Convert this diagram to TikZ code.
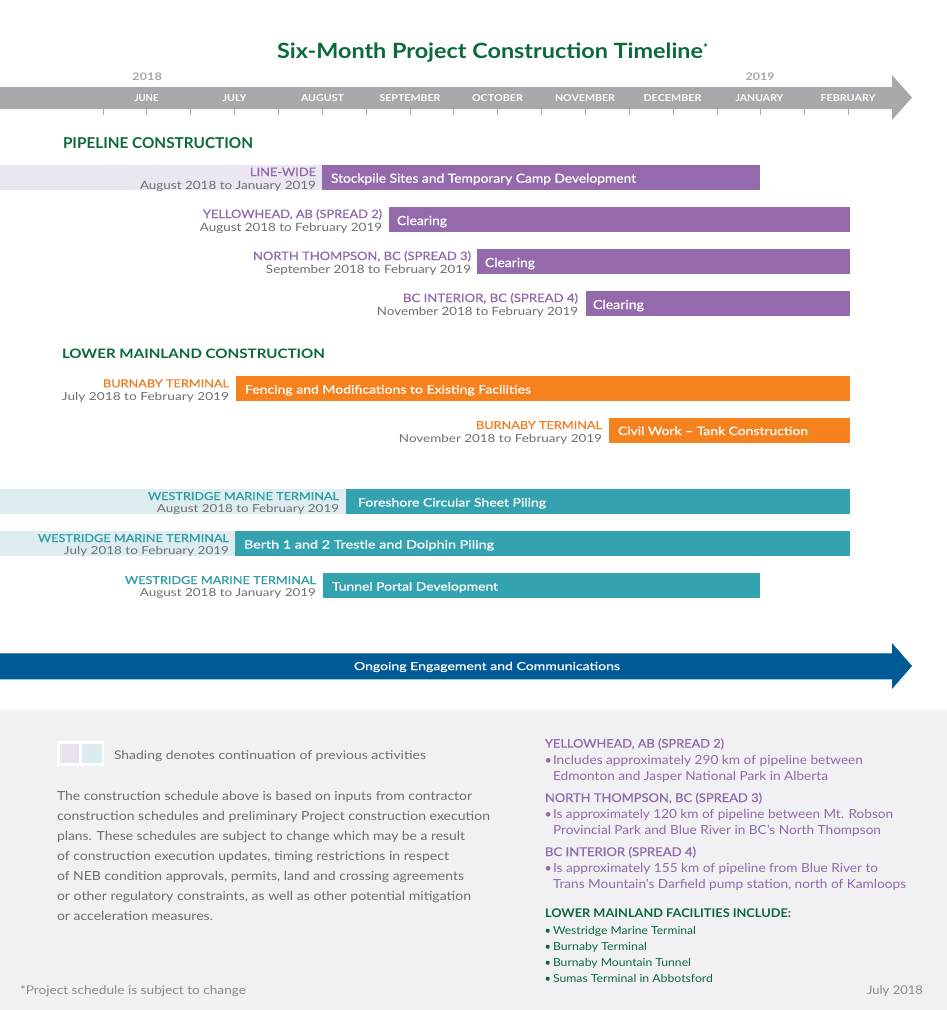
\documentclass[tikz,border=0pt]{standalone}
\usepackage{fontspec}
\usepackage{graphicx}
\setmainfont{Lato}
\newfontfamily\medfont{Lato}[FakeBold=0.5]
\newcommand\fw[2]{\resizebox{#1}{\height}{#2}}
\definecolor{greenT}{HTML}{0B6A3A}
\definecolor{purpleT}{HTML}{8E6AAA}
\definecolor{purpleB}{HTML}{946AAD}
\definecolor{lavS}{HTML}{ECE6F0}
\definecolor{orangeT}{HTML}{EF7F22}
\definecolor{orangeB}{HTML}{F5821F}
\definecolor{tealT}{HTML}{2F9CA8}
\definecolor{tealB}{HTML}{35A3AF}
\definecolor{tealS}{HTML}{DDEDF0}
\definecolor{grayT}{HTML}{6D6E71}
\definecolor{tlgray}{HTML}{A7A9AC}
\definecolor{blueA}{HTML}{005A96}
\definecolor{blueL}{HTML}{4E8DBE}
\definecolor{panel}{HTML}{F1F1F3}
\definecolor{legL}{HTML}{EBE2F0}
\definecolor{legT}{HTML}{DCEBED}
\tikzset{
  every node/.style={inner sep=0pt, outer sep=0pt},
  ttl/.style={anchor=base west, text=greenT, font=\bfseries\fontsize{21}{22}\selectfont},
  yearlbl/.style={anchor=base, text=tlgray, font=\bfseries\fontsize{10.5}{11}\selectfont},
  monthlbl/.style={anchor=base, text=white, font=\bfseries\fontsize{9.5}{10}\selectfont},
  tickmark/.style={draw=tlgray, line width=0.8pt},
  sechead/.style={anchor=base west, text=greenT, font=\bfseries\fontsize{15}{16}\selectfont},
  plbl/.style={anchor=base east, font=\medfont\fontsize{11.5}{12}\selectfont},
  pdate/.style={anchor=base east, text=grayT, font=\fontsize{11.5}{12}\selectfont},
  pbar/.style={anchor=base west, text=white, font=\medfont\fontsize{12.5}{13}\selectfont},
  llbl/.style={anchor=base east, font=\medfont\fontsize{11}{12}\selectfont},
  ldate/.style={anchor=base east, text=grayT, font=\fontsize{11}{12}\selectfont},
  lbar/.style={anchor=base west, text=white, font=\medfont\fontsize{11.5}{12}\selectfont},
  bodytxt/.style={anchor=base west, text=grayT, font=\fontsize{12.5}{13}\selectfont},
  rhead/.style={anchor=base west, text=purpleT, font=\medfont\fontsize{12}{13}\selectfont},
  rbody/.style={anchor=base west, text=purpleT, font=\fontsize{12.5}{13}\selectfont},
  ghead/.style={anchor=base west, text=greenT, font=\bfseries\fontsize{12}{13}\selectfont},
  gbody/.style={anchor=base west, text=greenT, font=\fontsize{11}{12}\selectfont},
}
\begin{document}
\begin{tikzpicture}[x=1pt, y=-1pt]
\useasboundingbox (0,0) rectangle (947,1010);
\fill[white] (0,0) rectangle (947,1010);
\fill[panel] (0,710) rectangle (947,1010);

% ---- title
\node[ttl] (title) at (277,58) {\fw{426pt}{Six-Month Project Construction Timeline}\raisebox{6pt}{\fontsize{12}{12}\selectfont *}};

% ---- timeline arrow
\fill[tlgray] (0,87) -- (892,87) -- (892,75) -- (912,97.5) -- (892,120) -- (892,109) -- (0,109) -- cycle;
\foreach \i in {0,...,17}{\draw[tickmark] ({103+43.85*\i},109) -- ({103+43.85*\i},115);}
\node[yearlbl] (y18) at (147,80.7) {\fw{30pt}{2018}};
\node[yearlbl] (y19) at (760,80.7) {\fw{29pt}{2019}};
\node[monthlbl] (m1) at (146.5,101) {\fw{24pt}{JUNE}};
\node[monthlbl] (m2) at (234.5,101) {\fw{24pt}{JULY}};
\node[monthlbl] (m3) at (322.5,101) {\fw{43pt}{AUGUST}};
\node[monthlbl] (m4) at (410,101) {\fw{61pt}{SEPTEMBER}};
\node[monthlbl] (m5) at (497.5,101) {\fw{51pt}{OCTOBER}};
\node[monthlbl] (m6) at (585,101) {\fw{60pt}{NOVEMBER}};
\node[monthlbl] (m7) at (672.5,101) {\fw{58pt}{DECEMBER}};
\node[monthlbl] (m8) at (759.5,101) {\fw{48pt}{JANUARY}};
\node[monthlbl] (m9) at (848,101) {\fw{55pt}{FEBRUARY}};

% ---- pipeline construction
\node[sechead] (h1) at (63,148.3) {\fw{190pt}{PIPELINE CONSTRUCTION}};

\fill[lavS] (0,165) rectangle (322,190);
\fill[purpleB] (322,165) rectangle (760,190);
\node[plbl, text=purpleT] (r1l) at (316,176) {\fw{66pt}{LINE-WIDE}};
\node[pdate] (r1d) at (316,189) {\fw{176pt}{August 2018 to January 2019}};
\node[pbar] (r1b) at (331,182.7) {\fw{305pt}{Stockpile Sites and Temporary Camp Development}};

\fill[purpleB] (389,207) rectangle (850,232);
\node[plbl, text=purpleT] (r2l) at (382,218) {\fw{179pt}{YELLOWHEAD, AB (SPREAD 2)}};
\node[pdate] (r2d) at (382,231.5) {\fw{182pt}{August 2018 to February 2019}};
\node[pbar] (r2b) at (397,225) {\fw{50pt}{Clearing}};

\fill[purpleB] (477,249) rectangle (850,274);
\node[plbl, text=purpleT] (r3l) at (471,260) {\fw{218pt}{NORTH THOMPSON, BC (SPREAD 3)}};
\node[pdate] (r3d) at (471,273.5) {\fw{205pt}{September 2018 to February 2019}};
\node[pbar] (r3b) at (485,267) {\fw{50pt}{Clearing}};

\fill[purpleB] (586,291) rectangle (850,316);
\node[plbl, text=purpleT] (r4l) at (578,302) {\fw{175pt}{BC INTERIOR, BC (SPREAD 4)}};
\node[pdate] (r4d) at (578,315.5) {\fw{201pt}{November 2018 to February 2019}};
\node[pbar] (r4b) at (593,309) {\fw{51pt}{Clearing}};

% ---- lower mainland construction
\node[sechead, font=\bfseries\fontsize{13}{14}\selectfont] (h2) at (62,358.3) {\fw{263pt}{LOWER MAINLAND CONSTRUCTION}};

\fill[orangeB] (236,376) rectangle (850,401);
\node[llbl, text=orangeT] (r5l) at (229,387.3) {\fw{126pt}{BURNABY TERMINAL}};
\node[ldate] (r5d) at (229,400.5) {\fw{167pt}{July 2018 to February 2019}};
\node[lbar] (r5b) at (245,393.5) {\fw{286pt}{Fencing and Modifications to Existing Facilities}};

\fill[orangeB] (609,418) rectangle (850,443);
\node[llbl, text=orangeT] (r6l) at (602,429) {\fw{126pt}{BURNABY TERMINAL}};
\node[ldate] (r6d) at (602,442.3) {\fw{203pt}{November 2018 to February 2019}};
\node[lbar] (r6b) at (618,435) {\fw{190pt}{Civil Work – Tank Construction}};

\fill[tealS] (0,489) rectangle (346,514);
\fill[tealB] (346,489) rectangle (850,514);
\node[llbl, text=tealT] (r7l) at (339,500) {\fw{191pt}{WESTRIDGE MARINE TERMINAL}};
\node[ldate] (r7d) at (339,512.5) {\fw{182pt}{August 2018 to February 2019}};
\node[lbar] (r7b) at (358,506.5) {\fw{188pt}{Foreshore Circular Sheet Piling}};

\fill[tealS] (0,531) rectangle (235,556);
\fill[tealB] (235,531) rectangle (850,556);
\node[llbl, text=tealT] (r8l) at (229,542) {\fw{191pt}{WESTRIDGE MARINE TERMINAL}};
\node[ldate] (r8d) at (229,554.5) {\fw{165pt}{July 2018 to February 2019}};
\node[lbar] (r8b) at (244,548.5) {\fw{250pt}{Berth 1 and 2 Trestle and Dolphin Piling}};

\fill[tealB] (323,573) rectangle (760,598);
\node[llbl, text=tealT] (r9l) at (316,584) {\fw{191pt}{WESTRIDGE MARINE TERMINAL}};
\node[ldate] (r9d) at (316,596.5) {\fw{176pt}{August 2018 to January 2019}};
\node[lbar] (r9b) at (332,590.5) {\fw{166pt}{Tunnel Portal Development}};

% ---- engagement arrow
\fill[blueA] (0,653) -- (892,653) -- (892,643) -- (912,666) -- (892,689) -- (892,679.3) -- (0,679.3) -- cycle;
\draw[blueL, line width=0.8pt] (0,653.4) -- (892,653.4);
\node[anchor=base, text=white, font=\medfont\fontsize{11}{12}\selectfont] (eng) at (487,670) {\fw{266pt}{Ongoing Engagement and Communications}};

% ---- legend
\fill[white] (57.3,740.7) rectangle (104.3,766);
\fill[legL] (60,744) rectangle (79,763.3);
\fill[legT] (82.3,744) rectangle (101.7,763.3);
\node[bodytxt, font=\fontsize{12}{13}\selectfont] (leg) at (114,759.3) {\fw{312pt}{Shading denotes continuation of previous activities}};

% ---- paragraph
\node[bodytxt] (p1) at (57,800.7) {\fw{415pt}{The construction schedule above is based on inputs from contractor}};
\node[bodytxt] (p2) at (57,820.7) {\fw{433pt}{construction schedules and preliminary Project construction execution}};
\node[bodytxt] (p3) at (57,840.7) {\fw{408pt}{plans. These schedules are subject to change which may be a result}};
\node[bodytxt] (p4) at (57,860.7) {\fw{392pt}{of construction execution updates, timing restrictions in respect}};
\node[bodytxt] (p5) at (57,880.7) {\fw{407pt}{of NEB condition approvals, permits, land and crossing agreements}};
\node[bodytxt] (p6) at (57,900.7) {\fw{414pt}{or other regulatory constraints, as well as other potential mitigation}};
\node[bodytxt] (p7) at (57,920.7) {\fw{156pt}{or acceleration measures.}};

% ---- right column
\node[rhead] (s2h) at (545,747.7) {\fw{179pt}{YELLOWHEAD, AB (SPREAD 2)}};
\node[rbody] (s2a) at (544.5,764.3) {•};
\node[rbody] (s2b) at (553,764.3) {\fw{310pt}{Includes approximately 290 km of pipeline between}};
\node[rbody] (s2c) at (553,780) {\fw{275pt}{Edmonton and Jasper National Park in Alberta}};
\node[rhead] (s3h) at (545,802) {\fw{217pt}{NORTH THOMPSON, BC (SPREAD 3)}};
\node[rbody] (s3a) at (544.5,818.3) {•};
\node[rbody] (s3b) at (553,818.3) {\fw{340pt}{Is approximately 120 km of pipeline between Mt. Robson}};
\node[rbody] (s3c) at (553,834.3) {\fw{328pt}{Provincial Park and Blue River in BC’s North Thompson}};
\node[rhead] (s4h) at (545,856) {\fw{151pt}{BC INTERIOR (SPREAD 4)}};
\node[rbody] (s4a) at (544.5,872.3) {•};
\node[rbody] (s4b) at (553,872.3) {\fw{325pt}{Is approximately 155 km of pipeline from Blue River to}};
\node[rbody] (s4c) at (553,888.3) {\fw{353pt}{Trans Mountain’s Darfield pump station, north of Kamloops}};
\node[ghead] (lmh) at (545,917.7) {\fw{246pt}{LOWER MAINLAND FACILITIES INCLUDE:}};
\node[gbody] (lm1a) at (544.5,934) {•};
\node[gbody] (lm1) at (553,934) {\fw{143pt}{Westridge Marine Terminal}};
\node[gbody] (lm2a) at (544.5,950) {•};
\node[gbody] (lm2) at (553,950) {\fw{94pt}{Burnaby Terminal}};
\node[gbody] (lm3a) at (544.5,966) {•};
\node[gbody] (lm3) at (553,966) {\fw{138pt}{Burnaby Mountain Tunnel}};
\node[gbody] (lm4a) at (544.5,982) {•};
\node[gbody] (lm4) at (553,982) {\fw{160pt}{Sumas Terminal in Abbotsford}};

% ---- footer
\node[bodytxt, font=\fontsize{12}{13}\selectfont, text=grayT!80] (foot) at (20,994) {\fw{226pt}{*Project schedule is subject to change}};
\node[anchor=base east, text=grayT!80, font=\fontsize{12}{13}\selectfont] (date) at (923,994) {\fw{56pt}{July 2018}};
\end{tikzpicture}
\end{document}
